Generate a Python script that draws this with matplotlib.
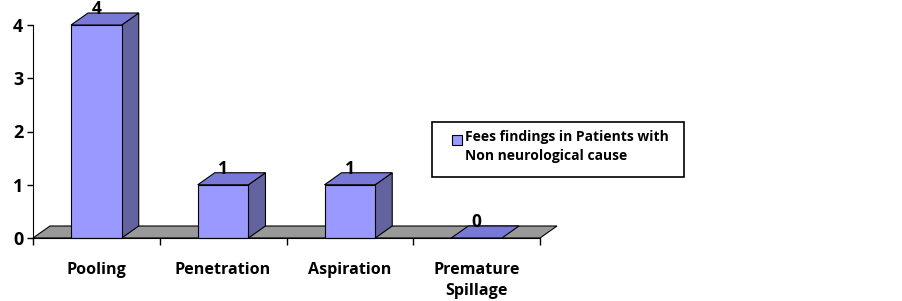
import matplotlib.pyplot as plt
from matplotlib.patches import Polygon, Rectangle

# data
categories = ['Pooling', 'Penetration', 'Aspiration', 'Premature\nSpillage']
values = [4, 1, 1, 0]
series_name = 'Fees findings in Patients with\nNon neurological cause'

plt.rcParams['font.family'] = ['Open Sans', 'DejaVu Sans']
plt.rcParams['font.weight'] = 'bold'

W, H = 903, 301
fig = plt.figure(figsize=(W / 100, H / 100), dpi=100)
# axes spans the plot area: x 33..540 px, y 25..238 px
ax = fig.add_axes([33 / W, (H - 238) / H, 507 / W, 213 / H])
ax.set_xlim(0, len(categories))
ax.set_ylim(0, 4)

# 3d depth offset, in data units
dx = 17 / 126.75
dy = 12 / 53.25

front_c = '#9999ff'
top_c = '#7878d6'
side_c = '#63639f'
floor_c = '#999999'

# floor
floor = Polygon([(0, 0), (len(categories), 0), (len(categories) + dx, dy), (dx, dy)],
                closed=True, facecolor=floor_c, edgecolor='black', lw=0.8, clip_on=False, zorder=1)
ax.add_patch(floor)

for i, v in enumerate(values):
    x0, x1 = i + 0.3, i + 0.7
    if v > 0:
        side = Polygon([(x1, 0), (x1 + dx, dy), (x1 + dx, v + dy), (x1, v)],
                       facecolor=side_c, edgecolor='black', lw=0.8, clip_on=False, zorder=2)
        ax.add_patch(side)
        ax.add_patch(Rectangle((x0, 0), x1 - x0, v, facecolor=front_c, edgecolor='black',
                               lw=0.8, clip_on=False, zorder=3))
    top = Polygon([(x0, v), (x1, v), (x1 + dx, v + dy), (x0 + dx, v + dy)],
                  facecolor=top_c, edgecolor='black', lw=0.8, clip_on=False, zorder=3)
    ax.add_patch(top)
    ax.text(i + 0.5, v + dy - 0.1, str(v), ha='center', va='bottom',
            fontsize=12.5, fontweight='bold', zorder=5)

for s in ['top', 'right']:
    ax.spines[s].set_visible(False)
ax.spines['left'].set_zorder(6)
ax.spines['bottom'].set_zorder(6)
ax.set_yticks(range(5))
ax.set_yticklabels([str(t) for t in range(5)], fontsize=13, fontweight='bold')
ax.tick_params(axis='y', length=4, width=1, pad=3)
ax.set_xticks(range(len(categories) + 1))
ax.set_xticklabels([])
ax.tick_params(axis='x', length=5, width=1, direction='out')
ax.patch.set_visible(False)

for i, c in enumerate(categories):
    ax.text(i + 0.5, -0.46, c, ha='center', va='top', fontsize=11.6,
            fontweight='bold', linespacing=1.35)

# legend box drawn by hand
fig.patches.append(Rectangle((432 / W, 1 - 177 / H), 252 / W, 55 / H,
                             transform=fig.transFigure, facecolor='white',
                             edgecolor='black', lw=1.2))
fig.patches.append(Rectangle((452 / W, 1 - 145 / H), 10 / W, 10 / H,
                             transform=fig.transFigure, facecolor=front_c,
                             edgecolor='black', lw=0.8))
fig.text(465 / W, 1 - 130 / H, series_name, ha='left', va='top', fontsize=10,
         fontweight='bold', linespacing=1.5)

fig.savefig('out.png', dpi=100)
